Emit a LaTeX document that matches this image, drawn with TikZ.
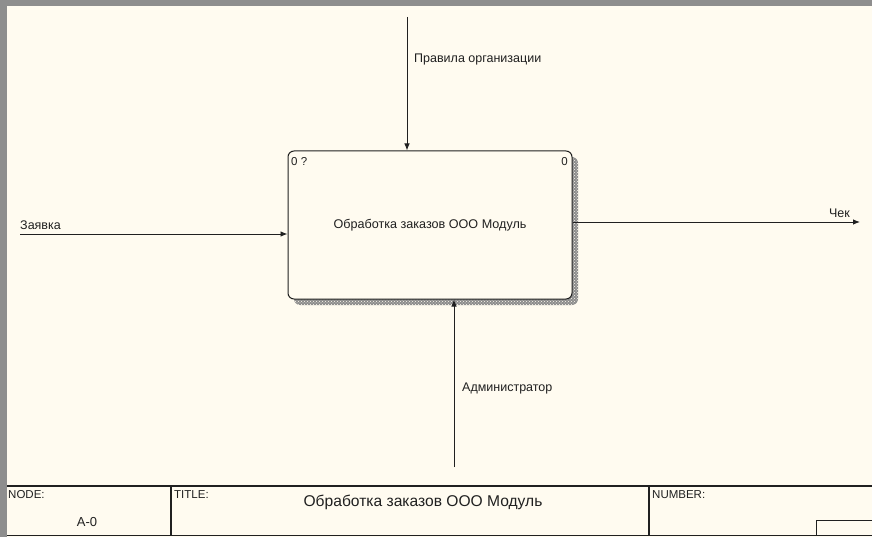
\documentclass[tikz,border=0pt]{standalone}
\usepackage{fontspec}
\setmainfont{Liberation Sans}
\usetikzlibrary{arrows.meta,patterns}
\definecolor{paper}{HTML}{FFFBF0}
\definecolor{frame}{HTML}{8E8E8E}
\definecolor{ink}{HTML}{202020}
\tikzset{
  lbl/.style={font=\fontsize{12.5}{14}\selectfont, text=ink, inner sep=0pt},
  small/.style={font=\fontsize{11.5}{13}\selectfont, text=ink, inner sep=0pt},
  arr/.style={draw=ink, line width=0.9pt, -{Latex[length=7pt,width=5.5pt]}},
  plain/.style={draw=ink, line width=0.9pt},
  tline/.style={draw=ink, line width=1.2pt},
  actbox/.style={draw=ink, line width=1pt, fill=paper, rounded corners=6pt,
     minimum width=284pt, minimum height=148pt, inner sep=0pt,
     font=\fontsize{12.6}{14}\selectfont, text=ink},
}
\begin{document}
\begin{tikzpicture}[x=1pt,y=-1pt]
\useasboundingbox (0,0) rectangle (872,537);
\fill[frame] (0,0) rectangle (872,537);
\fill[paper] (7,6) rectangle (872,537);
% shadow
\fill[black!45, rounded corners=6pt] (294,157) rectangle (578,305);
\fill[pattern=crosshatch dots, pattern color=paper, rounded corners=6pt] (294,157) rectangle (578,305);
\node[actbox] (box) at (430,225) {Обработка заказов ООО Модуль};
\node[small, anchor=north west] (num1) at (291,157) {0 ?};
\node[small, anchor=north east] (num2) at (568,157) {0};
% connectors
\coordinate (topin) at (407,17);
\coordinate (lin) at (20,234);
\coordinate (rout) at (860,222);
\coordinate (bin) at (454,467);
\draw[arr] (topin) -- (topin |- box.north);
\draw[arr] (lin) -- (lin -| box.west);
\draw[arr] (rout -| box.east) -- (rout);
\draw[arr] (bin) -- (bin |- box.south);
\node[lbl, anchor=west] (l1) at (414,60) {Правила организации};
\node[lbl, anchor=south west] (l2) at (20,230) {Заявка};
\node[lbl, anchor=south east] (l3) at (850,218) {Чек};
\node[lbl, anchor=west] (l4) at (462,388) {Администратор};
% title block
\draw[tline] (7,486) -- (872,486);
\draw[tline] (7,535.5) -- (872,535.5);
\draw[tline] (171,486) -- (171,535.5);
\draw[tline] (649,486) -- (649,535.5);
\draw[plain] (816,535.5) -- (816,520) -- (872,520);
\node[small, anchor=north west] (t1) at (8,490) {NODE:};
\node[font=\fontsize{13}{15}\selectfont, text=ink, inner sep=0pt] (t2) at (87,522) {A-0};
\node[small, anchor=north west] (t3) at (174,490) {TITLE:};
\node[font=\fontsize{15.6}{18}\selectfont, text=ink, inner sep=0pt] (t4) at (423,502) {Обработка заказов ООО Модуль};
\node[small, anchor=north west] (t5) at (652,490) {NUMBER:};
\end{tikzpicture}
\end{document}
